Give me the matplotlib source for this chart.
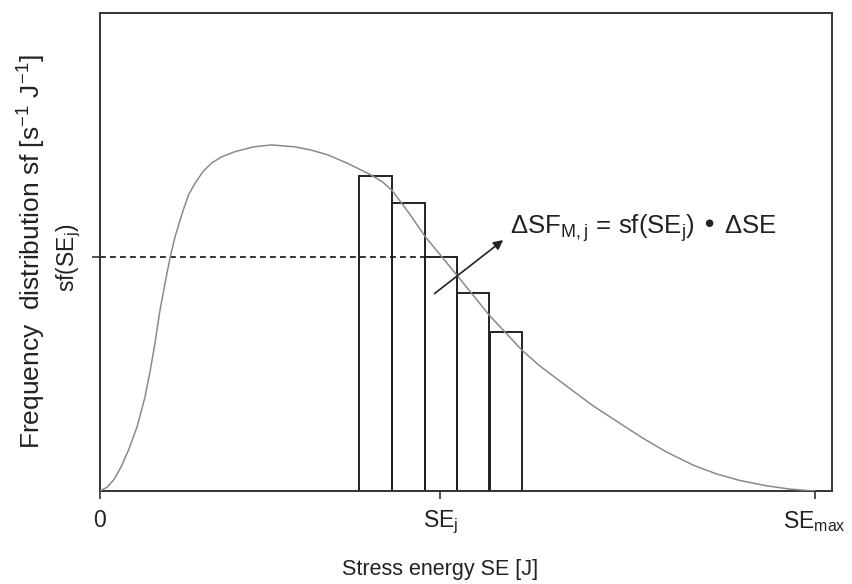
import matplotlib
matplotlib.use("Agg")
import matplotlib.pyplot as plt

plt.rcParams["font.family"] = ["Liberation Sans", "DejaVu Sans"]

# frequency distribution sf(SE) (SE_max = 1)
se_curve = [0.0, 0.010, 0.020, 0.030, 0.040, 0.052, 0.063, 0.070, 0.077, 0.084,
            0.091, 0.098, 0.105, 0.1165, 0.124, 0.133, 0.144, 0.156, 0.170, 0.189,
            0.215, 0.240, 0.273, 0.296, 0.319, 0.347, 0.378, 0.395, 0.409, 0.432,
            0.455, 0.499, 0.545, 0.590, 0.615, 0.653, 0.690, 0.732, 0.760, 0.792,
            0.830, 0.862, 0.895, 0.932, 0.965, 1.0]
sf_curve = [0.0, 0.008, 0.025, 0.052, 0.086, 0.135, 0.197, 0.250, 0.310, 0.379,
            0.435, 0.488, 0.532, 0.588, 0.620, 0.644, 0.668, 0.686, 0.699, 0.710,
            0.720, 0.724, 0.720, 0.713, 0.703, 0.685, 0.662, 0.647, 0.628, 0.582,
            0.532, 0.452, 0.367, 0.295, 0.262, 0.219, 0.178, 0.137, 0.110, 0.082,
            0.054, 0.036, 0.022, 0.011, 0.004, 0.0]

# discretised classes around SE_j
bar_left = [0.363, 0.409, 0.454, 0.499, 0.545]
bar_height = [0.658, 0.602, 0.489, 0.414, 0.333]
bar_width = 0.0455

se_j = 0.476
sf_j = 0.489
x_ticks = [0.0, se_j, 1.0]
x_tick_labels = ["0", "SE$_\\mathregular{j}$", "SE$_\\mathregular{max}$"]

fig = plt.figure(figsize=(8.53, 5.84), dpi=100)
ax = fig.add_axes([100 / 853, 1 - 491 / 584, 732 / 853, 478 / 584])

ax.plot(se_curve, sf_curve, color="#8a8a8a", lw=1.1, zorder=3)
ax.bar(bar_left, bar_height, width=bar_width, align="edge",
       facecolor="none", edgecolor="#222222", lw=1.4, zorder=2)
ax.plot([0, bar_left[2]], [sf_j, sf_j], color="#111111", lw=1.2,
        ls=(0, (3.5, 2.5)), zorder=2)

ax.annotate("", xy=(0.564, 0.525), xytext=(0.468, 0.413),
            arrowprops=dict(arrowstyle="-|>", color="#222222", lw=1.2,
                            mutation_scale=14, shrinkA=0, shrinkB=0), zorder=4)
ax.text(0.573, 0.538, "ΔSF$_\\mathregular{M,j}$ = sf(SE$_\\mathregular{j}$) • ΔSE",
        fontsize=18.5, color="#222222", va="baseline", ha="left")

ax.set_xlim(0, 1.024)
ax.set_ylim(0, 1)
ax.set_xticks(x_ticks)
ax.set_xticklabels(x_tick_labels, fontsize=16.5)
ax.set_yticks([sf_j])
ax.set_yticklabels(["sf(SE$_\\mathregular{j}$)"], fontsize=16.5, rotation=90, va="center")
ax.tick_params(direction="out", length=6, width=1.2, color="#333333", labelcolor="#222222")
ax.tick_params(axis="x", pad=7)
ax.tick_params(axis="y", pad=6)
for s in ax.spines.values():
    s.set_color("#333333")
    s.set_linewidth(1.4)

ax.set_xlabel("Stress energy SE [J]", fontsize=15.5, color="#222222")
ax.xaxis.set_label_coords(0.4645, -0.143)
ax.set_ylabel("Frequency  distribution sf [s$^\\mathregular{-1}$ J$^\\mathregular{-1}$]",
              fontsize=19, color="#222222")
ax.yaxis.set_label_coords(-0.073, 0.50)

fig.savefig("out.png", dpi=100)
